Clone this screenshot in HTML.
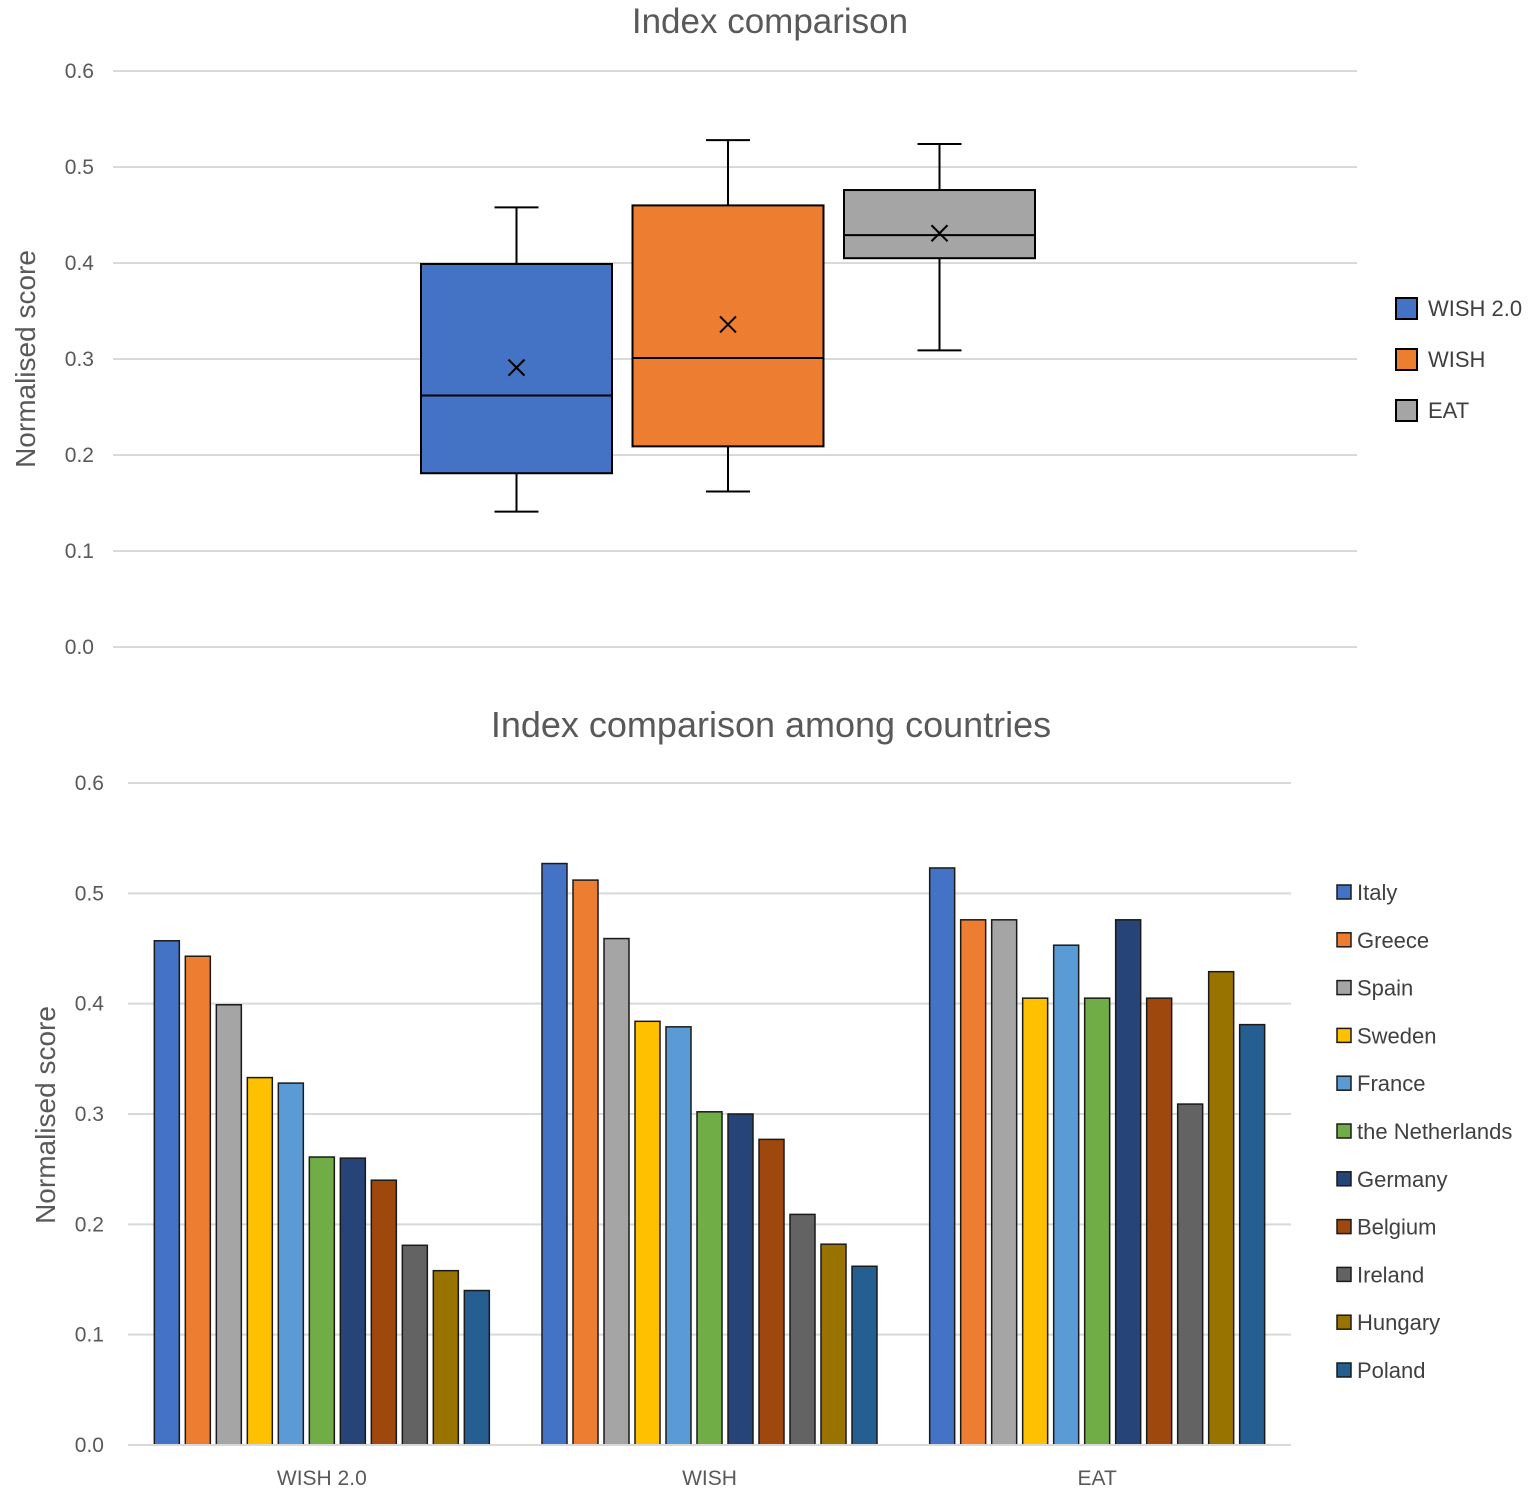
<!DOCTYPE html>
<html><head><meta charset="utf-8"><style>
html,body{margin:0;padding:0;background:#fff;}
svg{display:block;font-family:"Liberation Sans",sans-serif;}
</style></head><body>
<svg id="svg" width="1536" height="1496" viewBox="0 0 1536 1496" xmlns="http://www.w3.org/2000/svg">
<g id="topChart"></g>
<g id="botChart"></g>
</svg>
<script>
// ---- Box plot data ----
const boxNames = ["WISH 2.0","WISH","EAT"];
const boxColors = ["#4472C4","#ED7D31","#A5A5A5"];
const boxMin = [0.141,0.162,0.309];
const boxQ1 = [0.181,0.209,0.405];
const boxMed = [0.262,0.301,0.429];
const boxQ3 = [0.399,0.460,0.476];
const boxMax = [0.458,0.528,0.524];
const boxMean = [0.291,0.336,0.431];
const yTicks = ["0.0","0.1","0.2","0.3","0.4","0.5","0.6"];
// ---- Bar chart data ----
const categories = ["WISH 2.0","WISH","EAT"];
const countries = ["Italy","Greece","Spain","Sweden","France","the Netherlands","Germany","Belgium","Ireland","Hungary","Poland"];
const countryColors = ["#4472C4","#ED7D31","#A5A5A5","#FFC000","#5B9BD5","#70AD47","#264478","#9E480E","#636363","#997300","#255E91"];
const valWish20 = [0.457,0.443,0.399,0.333,0.328,0.261,0.260,0.240,0.181,0.158,0.140];
const valWish = [0.527,0.512,0.459,0.384,0.379,0.302,0.300,0.277,0.209,0.182,0.162];
const valEat = [0.523,0.476,0.476,0.405,0.453,0.405,0.476,0.405,0.309,0.429,0.381];
const series = [valWish20,valWish,valEat];

const NS="http://www.w3.org/2000/svg";
function mk(parent,tag,attrs,text){const e=document.createElementNS(NS,tag);for(const k in attrs)e.setAttribute(k,attrs[k]);if(text!==undefined)e.textContent=text;parent.appendChild(e);return e;}

// Top chart
const topG=document.getElementById('topChart');
const ty=v=>647-v/0.6*576;
const tx0=113,tx1=1357;
let t=mk(topG,'text',{x:770,y:33,'text-anchor':'middle','font-size':35,fill:'#595959'},"Index comparison");


t=mk(topG,'text',{x:0,y:0,transform:'translate(35,359) rotate(-90)','text-anchor':'middle','font-size':28,fill:'#595959'},"Normalised score");


yTicks.forEach((lb,i)=>{const v=i*0.1;
 const l=mk(topG,'line',{x1:tx0,x2:tx1,y1:ty(v),y2:ty(v),stroke:'#d9d9d9','stroke-width':2});
 
 
 const tt=mk(topG,'text',{x:94,y:ty(v)+7,'text-anchor':'end','font-size':21,fill:'#595959'},lb);
 
 
});
const boxW=191, boxStep=211.5, boxC0=516.5;
boxNames.forEach((n,i)=>{
 const cx=boxC0+i*boxStep;
 const g=mk(topG,'g',{});
 
 
 const st={stroke:'#000','stroke-width':2};
 mk(g,'line',Object.assign({x1:cx,x2:cx,y1:ty(boxMax[i]),y2:ty(boxQ3[i])},st));
 mk(g,'line',Object.assign({x1:cx,x2:cx,y1:ty(boxQ1[i]),y2:ty(boxMin[i])},st));
 mk(g,'line',Object.assign({x1:cx-22,x2:cx+22,y1:ty(boxMax[i]),y2:ty(boxMax[i])},st));
 mk(g,'line',Object.assign({x1:cx-22,x2:cx+22,y1:ty(boxMin[i]),y2:ty(boxMin[i])},st));
 mk(g,'rect',Object.assign({x:cx-boxW/2,y:ty(boxQ3[i]),width:boxW,height:ty(boxQ1[i])-ty(boxQ3[i]),fill:boxColors[i]},st));
 mk(g,'line',Object.assign({x1:cx-boxW/2,x2:cx+boxW/2,y1:ty(boxMed[i]),y2:ty(boxMed[i])},st));
 const my=ty(boxMean[i]);
 mk(g,'path',Object.assign({d:`M${cx-8} ${my-8}L${cx+8} ${my+8}M${cx+8} ${my-8}L${cx-8} ${my+8}`,fill:'none'},st));
 const ly=308+i*51;
 const lg=mk(topG,'g',{});
 
 
 mk(lg,'rect',{x:1396,y:ly-10,width:21,height:21,fill:boxColors[i],stroke:'#000','stroke-width':2});
 mk(lg,'text',{x:1428,y:ly+8,'font-size':22,fill:'#404040'},n);
});

// Bottom chart
const botG=document.getElementById('botChart');
const by=v=>1445-v/0.6*662;
const bx0=128,bx1=1291;
t=mk(botG,'text',{x:771,y:737,'text-anchor':'middle','font-size':36,fill:'#595959'},"Index comparison among countries");


t=mk(botG,'text',{x:0,y:0,transform:'translate(55,1115) rotate(-90)','text-anchor':'middle','font-size':28,fill:'#595959'},"Normalised score");


yTicks.forEach((lb,i)=>{const v=i*0.1;
 const l=mk(botG,'line',{x1:bx0,x2:bx1,y1:by(v),y2:by(v),stroke:'#d9d9d9','stroke-width':2});
 
 
 const tt=mk(botG,'text',{x:104,y:by(v)+7,'text-anchor':'end','font-size':21,fill:'#595959'},lb);
 
 
});
const groupW=(bx1-bx0)/3, barStep=31, barW=25;
categories.forEach((c,gi)=>{
 const gc=bx0+groupW*(gi+0.5);
 const start=gc-(barStep*10+barW)/2;
 series[gi].forEach((v,bi)=>{
  const r=mk(botG,'rect',{x:start+bi*barStep,y:by(v),width:barW,height:by(0)-by(v),fill:countryColors[bi],stroke:'#1a1a1a','stroke-width':1.5});
  
  
 });
 const tt=mk(botG,'text',{x:gc,y:1485,'text-anchor':'middle','font-size':21,fill:'#595959'},c);
 
 
});
const ax=mk(botG,'line',{x1:bx0,x2:bx1,y1:by(0),y2:by(0),stroke:'#d9d9d9','stroke-width':2});


countries.forEach((n,i)=>{
 const ly=892+i*47.8;
 const lg=mk(botG,'g',{});
 
 
 mk(lg,'rect',{x:1337,y:ly-7,width:14,height:14,fill:countryColors[i],stroke:'#1a1a1a','stroke-width':1.5});
 mk(lg,'text',{x:1357,y:ly+8,'font-size':22,fill:'#404040'},n);
});
</script>
</body></html>
